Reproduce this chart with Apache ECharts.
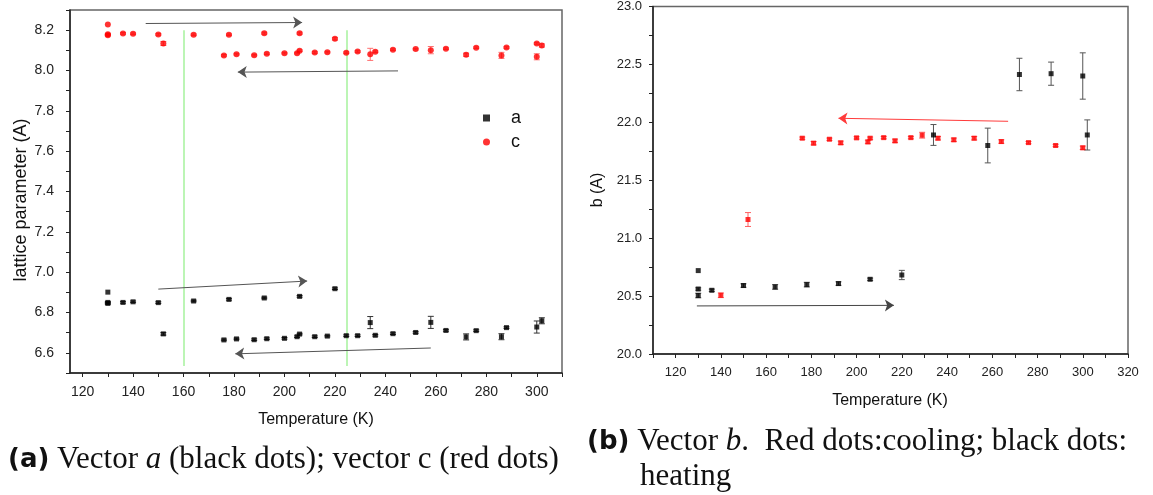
<!DOCTYPE html>
<html>
<head>
<meta charset="utf-8">
<script src="https://cdn.jsdelivr.net/npm/echarts@6/dist/echarts.min.js"></script>
<style>
  html, body { margin: 0; padding: 0; background: #fff; }
  #chart { width: 1153px; height: 495px; }
</style>
</head>
<body>
<div id="chart"></div>
<script>
  // (a) lattice a and c vs temperature
  var tempA = [130, 130, 130, 136, 140, 150, 152, 164, 176, 178, 181, 188, 192, 193, 200, 205, 206, 206, 212, 217, 220, 224.5, 229, 234, 236, 243, 252, 258, 264, 272, 276, 286, 288, 300, 302]
  var valA = [6.901, 6.85, 6.845, 6.850, 6.853, 6.849, 6.694, 6.857, 6.664, 6.865, 6.669, 6.665, 6.872, 6.670, 6.672, 6.680, 6.693, 6.880, 6.680, 6.683, 6.918, 6.685, 6.685, 6.750, 6.687, 6.695, 6.701, 6.751, 6.711, 6.679, 6.710, 6.680, 6.725, 6.728, 6.759]
  var errA = [0, 0.004, 0.004, 0.004, 0.004, 0.004, 0.006, 0.004, 0.004, 0.004, 0.004, 0.004, 0.004, 0.004, 0.004, 0.004, 0.004, 0.004, 0.004, 0.004, 0.004, 0.004, 0.004, 0.03, 0.004, 0.004, 0.004, 0.03, 0.004, 0.015, 0.004, 0.015, 0.004, 0.03, 0.015]

  var tempC = [130, 130, 130, 136, 140, 150, 152, 164, 176, 178, 181, 188, 192, 193, 200, 205, 206, 206, 212, 217, 220, 224.5, 229, 234, 236, 243, 252, 258, 264, 272, 276, 286, 288, 300, 300, 302]
  var valC = [8.228, 8.18, 8.175, 8.184, 8.182, 8.179, 8.134, 8.177, 8.075, 8.177, 8.081, 8.076, 8.185, 8.083, 8.086, 8.086, 8.098, 8.185, 8.089, 8.091, 8.157, 8.088, 8.094, 8.080, 8.093, 8.103, 8.106, 8.101, 8.108, 8.078, 8.113, 8.075, 8.114, 8.134, 8.068, 8.124]
  var errC = [0, 0.004, 0.004, 0.004, 0.004, 0.004, 0.01, 0.004, 0.004, 0.004, 0.004, 0.004, 0.005, 0.004, 0.004, 0.004, 0.004, 0.005, 0.004, 0.004, 0.006, 0.004, 0.004, 0.03, 0.004, 0.004, 0.004, 0.018, 0.004, 0.008, 0.004, 0.015, 0.004, 0.004, 0.015, 0.008]

  // (b) lattice b, cooling (red) and heating (black)
  var tempCool = [140, 152, 176, 181, 188, 193, 200, 205, 206, 212, 217, 224, 229, 236, 243, 252, 264, 276, 288, 300]
  var bCool = [20.507, 21.161, 21.863, 21.820, 21.854, 21.823, 21.866, 21.831, 21.863, 21.868, 21.840, 21.868, 21.889, 21.863, 21.849, 21.863, 21.834, 21.825, 21.800, 21.780]
  var errCool = [0.02, 0.06, 0.01, 0.015, 0.01, 0.015, 0.01, 0.015, 0.01, 0.01, 0.015, 0.01, 0.025, 0.015, 0.015, 0.015, 0.015, 0.01, 0.01, 0.015]

  var tempHeat = [130, 130, 130, 136, 150, 164, 178, 192, 206, 220, 234, 258, 272, 286, 300, 302]
  var bHeat = [20.72, 20.561, 20.505, 20.550, 20.591, 20.579, 20.599, 20.608, 20.645, 20.682, 21.891, 21.80, 22.413, 22.42, 22.40, 21.891]
  var errHeat = [0, 0.01, 0.02, 0.01, 0.015, 0.02, 0.02, 0.015, 0.01, 0.04, 0.09, 0.15, 0.14, 0.10, 0.20, 0.13]

  // arrows [from, to] and transition lines
  var arrowsA = [[[145, 8.233], [207, 8.238]], [[245, 7.998], [181.5, 7.992]], [[150, 6.916], [209, 6.956]], [[258, 6.624], [180.5, 6.595]]]
  var greenLines = [[[160, 8.2], [160, 6.535]], [[224.6, 8.2], [224.6, 6.535]]]
  var arrowCool = [[[267, 22.009], [192, 22.035]]]
  var arrowHeat = [[[129.4, 20.415], [216.5, 20.42]]]

  // tick labels
  var xLabelsA = [120, 140, 160, 180, 200, 220, 240, 260, 280, 300]
  var xTicksA = [120, 130, 140, 150, 160, 170, 180, 190, 200, 210, 220, 230, 240, 250, 260, 270, 280, 290, 300, 310]
  var yLabelsA = [6.6, 6.8, 7.0, 7.2, 7.4, 7.6, 7.8, 8.0, 8.2]
  var yTicksA = [6.5, 6.6, 6.7, 6.8, 6.9, 7.0, 7.1, 7.2, 7.3, 7.4, 7.5, 7.6, 7.7, 7.8, 7.9, 8.0, 8.1, 8.2, 8.3]
  var xLabelsB = [120, 140, 160, 180, 200, 220, 240, 260, 280, 300, 320]
  var xTicksB = [110, 120, 130, 140, 150, 160, 170, 180, 190, 200, 210, 220, 230, 240, 250, 260, 270, 280, 290, 300, 310, 320]

  function zip (xs, ys, es) {
    return xs.map(function (x, i) { return es ? [x, ys[i], es[i]] : [x, ys[i]] })
  }

  function errRender (params, api) {
    var x = api.value(0)
    var y = api.value(1)
    var e = api.value(2)
    if (!e) return null
    var lo = api.coord([x, y - e])
    var hi = api.coord([x, y + e])
    var w = 3
    var style = { stroke: api.visual('color'), lineWidth: 1 }
    return {
      type: 'group',
      children: [
        { type: 'line', shape: { x1: lo[0], y1: lo[1], x2: hi[0], y2: hi[1] }, style: style },
        { type: 'line', shape: { x1: lo[0] - w, y1: lo[1], x2: lo[0] + w, y2: lo[1] }, style: style },
        { type: 'line', shape: { x1: hi[0] - w, y1: hi[1], x2: hi[0] + w, y2: hi[1] }, style: style }
      ]
    }
  }

  function errSeries (name, data, gi, color) {
    return {
      name: name,
      type: 'custom',
      xAxisIndex: gi,
      yAxisIndex: gi,
      renderItem: errRender,
      encode: { x: 0, y: 1 },
      itemStyle: { color: color },
      data: data,
      z: 2,
      silent: true
    }
  }

  function arrowSeries (name, pairs, gi, color, sym) {
    return {
      name: name,
      type: 'lines',
      coordinateSystem: 'cartesian2d',
      xAxisIndex: gi,
      yAxisIndex: gi,
      symbol: sym ? ['none', 'arrow'] : ['none', 'none'],
      symbolSize: 9,
      lineStyle: { color: color, width: sym ? 1 : 1.5, opacity: 1 },
      data: pairs.map(function (p) { return { coords: p } }),
      z: 1,
      silent: true
    }
  }

  var tickFont = { fontFamily: 'Liberation Sans', color: '#222' }

  function xAxisDef (gi, min, max, labels, ticks, size) {
    return {
      type: 'value',
      gridIndex: gi,
      min: min,
      max: max,
      axisLine: { lineStyle: { color: '#222', width: 1.5 } },
      axisTick: { show: true, customValues: ticks, length: 4, lineStyle: { color: '#222' } },
      axisLabel: Object.assign({ customValues: labels, fontSize: size, margin: 12 }, tickFont),
      splitLine: { show: false }
    }
  }

  var capRich = {
    b: { font: 'bold 26px "DejaVu Sans"', fill: '#111' },
    r: { font: '31px "Liberation Serif"', fill: '#111' },
    i: { font: 'italic 31px "Liberation Serif"', fill: '#111' }
  }

  var option = {
    backgroundColor: '#fff',
    animation: false,
    grid: [
      { left: 70, top: 10, width: 492, height: 363, show: true, borderColor: '#666', borderWidth: 1.5 },
      { left: 653, top: 5, width: 475, height: 349, show: true, borderColor: '#666', borderWidth: 1.5 }
    ],
    legend: {
      data: [{ name: 'a', icon: 'rect' }, { name: 'c', icon: 'circle' }],
      orient: 'vertical',
      left: 478,
      top: 104,
      itemWidth: 7,
      itemHeight: 7,
      itemGap: 6,
      textStyle: { fontFamily: 'Liberation Sans', fontSize: 18, color: '#111', padding: [0, 0, 0, 16] }
    },
    xAxis: [
      xAxisDef(0, 115, 310, xLabelsA, xTicksA, 14),
      xAxisDef(1, 110, 320, xLabelsB, xTicksB, 13)
    ],
    yAxis: [
      {
        type: 'value',
        gridIndex: 0,
        min: 6.5,
        max: 8.3,
        axisLine: { show: true, lineStyle: { color: '#222', width: 1.5 } },
        axisTick: { show: true, customValues: yTicksA, length: 4, lineStyle: { color: '#222' } },
        axisLabel: Object.assign({
          customValues: yLabelsA,
          fontSize: 14,
          margin: 16,
          formatter: function (v) { return v.toFixed(1) }
        }, tickFont),
        splitLine: { show: false }
      },
      {
        type: 'value',
        gridIndex: 1,
        min: 20,
        max: 23,
        interval: 0.5,
        axisLine: { show: true, lineStyle: { color: '#222', width: 1.5 } },
        axisTick: { show: true, length: 4, lineStyle: { color: '#222' } },
        minorTick: { show: true, splitNumber: 2, length: 4, lineStyle: { color: '#222' } },
        axisLabel: Object.assign({
          fontSize: 13,
          margin: 11,
          formatter: function (v) { return v.toFixed(1) }
        }, tickFont),
        splitLine: { show: false }
      }
    ],
    graphic: [
      { type: 'text', x: 21, y: 200, rotation: Math.PI / 2, style: { text: 'lattice parameter (A)', font: '18px "Liberation Sans"', fill: '#111', align: 'center', verticalAlign: 'middle' } },
      { type: 'text', x: 316, y: 420, style: { text: 'Temperature (K)', font: '16px "Liberation Sans"', fill: '#111', align: 'center', verticalAlign: 'middle' } },
      { type: 'text', x: 598, y: 190, rotation: Math.PI / 2, style: { text: 'b (A)', font: '16px "Liberation Sans"', fill: '#111', align: 'center', verticalAlign: 'middle' } },
      { type: 'text', x: 890, y: 401, style: { text: 'Temperature (K)', font: '16px "Liberation Sans"', fill: '#111', align: 'center', verticalAlign: 'middle' } },
      {
        type: 'text', x: 8, y: 460,
        style: {
          text: '{b|(a)}{r| Vector }{i|a}{r| (black dots); vector c (red dots)}',
          verticalAlign: 'middle',
          rich: capRich
        }
      },
      {
        type: 'text', x: 587, y: 442,
        style: {
          text: '{b|(b)}{r| Vector }{i|b}{r|.  Red dots:cooling; black dots:}',
          verticalAlign: 'middle',
          rich: capRich
        }
      },
      { type: 'text', x: 640, y: 477, style: { text: 'heating', font: '31px "Liberation Serif"', fill: '#111', verticalAlign: 'middle' } }
    ],
    series: [
      arrowSeries('greenlines', greenLines, 0, '#a6f29c', false),
      arrowSeries('arrowsA', arrowsA, 0, '#555', true),
      errSeries('errA', zip(tempA, valA, errA), 0, '#333'),
      errSeries('errC', zip(tempC, valC, errC), 0, '#ff7070'),
      {
        name: 'a', type: 'scatter', xAxisIndex: 0, yAxisIndex: 0,
        symbol: 'rect', symbolSize: 5, itemStyle: { color: '#000' },
        data: zip(tempA, valA), z: 3
      },
      {
        name: 'c', type: 'scatter', xAxisIndex: 0, yAxisIndex: 0,
        symbol: 'circle', symbolSize: 6, itemStyle: { color: '#ff0000' },
        data: zip(tempC, valC), z: 3
      },
      arrowSeries('arrowCool', arrowCool, 1, '#ff3b3b', true),
      arrowSeries('arrowHeat', arrowHeat, 1, '#444', true),
      errSeries('errCool', zip(tempCool, bCool, errCool), 1, '#ff6060'),
      errSeries('errHeat', zip(tempHeat, bHeat, errHeat), 1, '#555'),
      {
        name: 'cooling', type: 'scatter', xAxisIndex: 1, yAxisIndex: 1,
        symbol: 'rect', symbolSize: 5, itemStyle: { color: '#ff0000' },
        data: zip(tempCool, bCool), z: 3
      },
      {
        name: 'heating', type: 'scatter', xAxisIndex: 1, yAxisIndex: 1,
        symbol: 'rect', symbolSize: 5, itemStyle: { color: '#000' },
        data: zip(tempHeat, bHeat), z: 3
      }
    ]
  }

  var chart = echarts.init(document.getElementById('chart'))
  chart.setOption(option)
</script>
</body>
</html>
